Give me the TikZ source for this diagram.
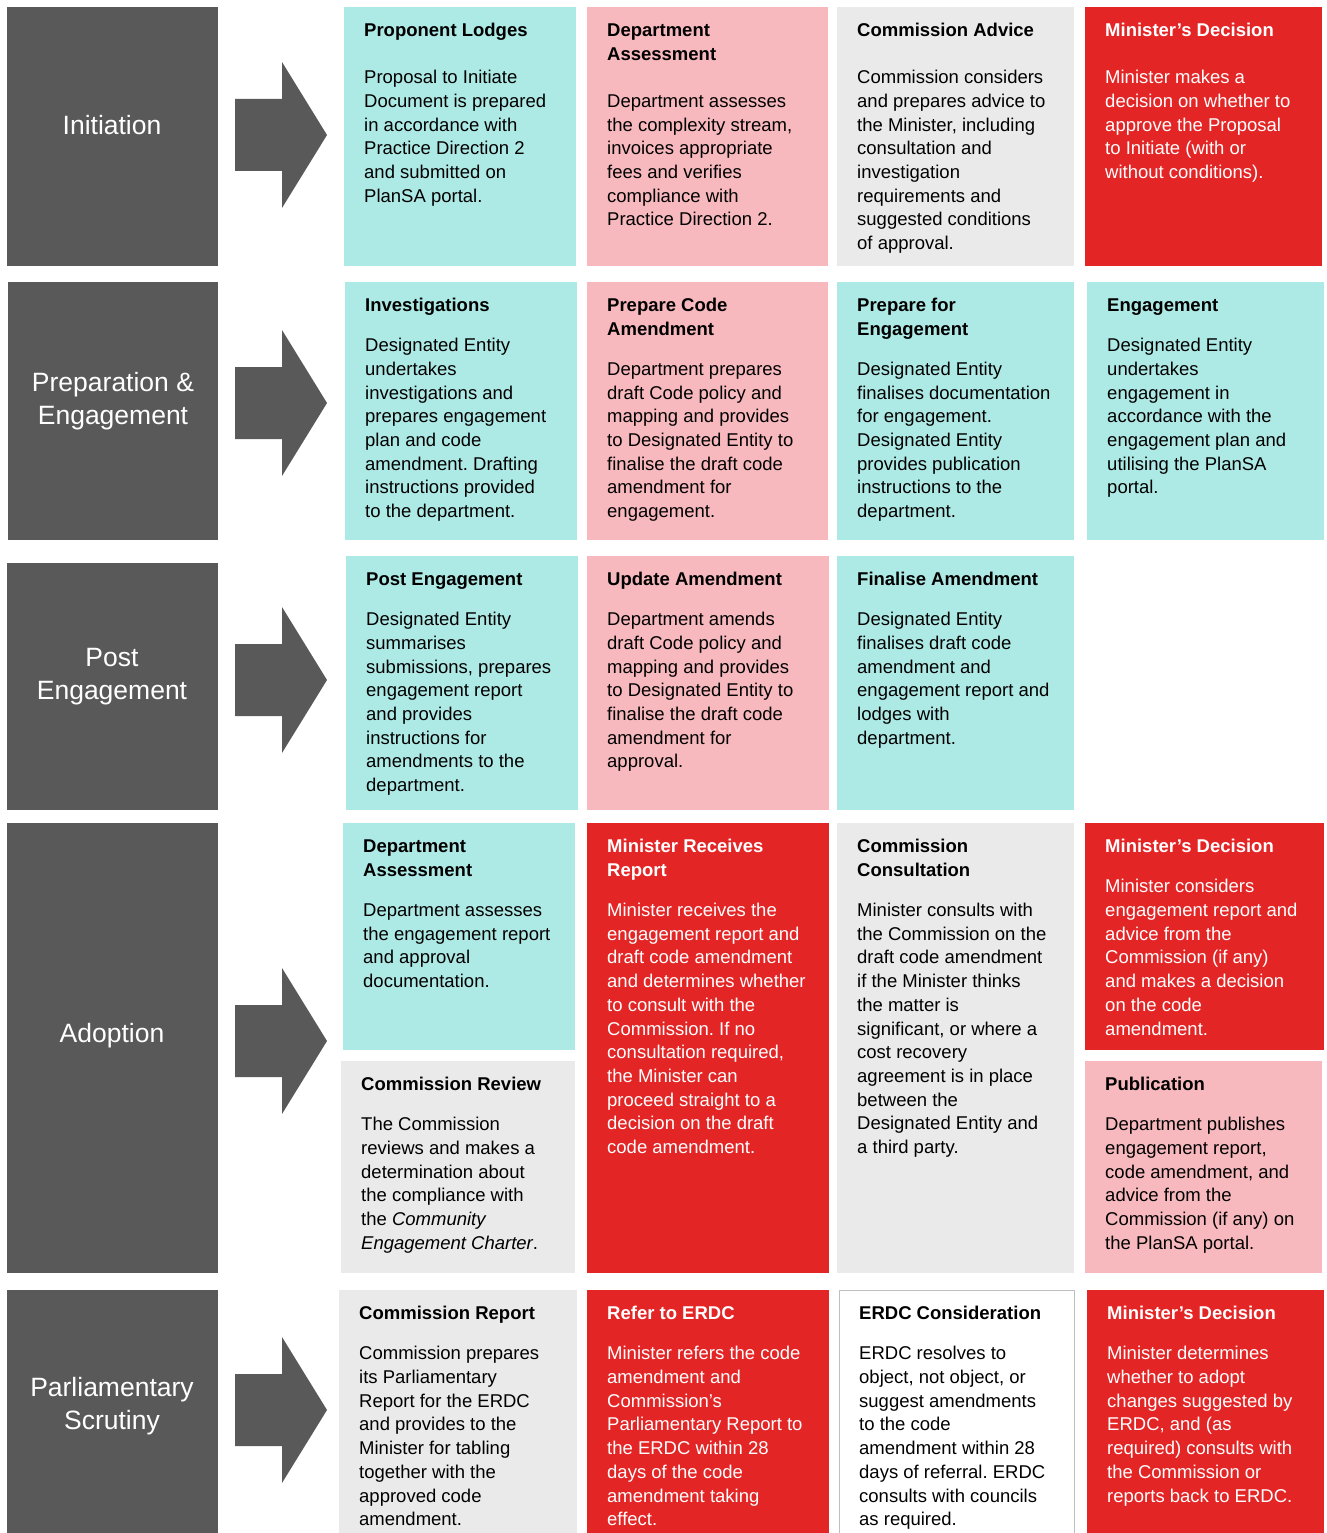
\documentclass[tikz,border=0pt]{standalone}
\usepackage{fontspec}
\setmainfont{Liberation Sans}
\frenchspacing
\definecolor{cyanbox}{HTML}{AEEAE5}
\definecolor{pinkbox}{HTML}{F8B9BE}
\definecolor{greybox}{HTML}{EAEAEA}
\definecolor{redbox}{HTML}{E42526}
\definecolor{darkbox}{HTML}{595959}
\definecolor{edgegrey}{HTML}{BFBFBF}
\tikzset{
  cardtext/.style={anchor=north west, inner sep=0pt, align=left, font=\fontsize{18.5}{23.7}\selectfont\frenchspacing},
  stagelabel/.style={inner sep=0pt, align=center, text=white, font=\fontsize{26.5}{33}\selectfont},
  stagebox/.style={fill=darkbox},
  stagearrow/.style={fill=darkbox},
  cyancard/.style={fill=cyanbox},
  pinkcard/.style={fill=pinkbox},
  greycard/.style={fill=greybox},
  redcard/.style={fill=redbox},
  whitecard/.style={fill=white, draw=edgegrey, line width=1pt},
}
% name, x1, y1, x2, y2, style, text colour, content
\newcommand\mycard[8]{%
  \path[#6] (#2,#3) rectangle (#4,#5);
  \node[cardtext, text=#7] (#1) at (#2+20,#3+13) {\strut #8};
}
% name, centre y
\newcommand\myarrow[2]{%
  \path[stagearrow] (235,#2-36) -- (282,#2-36) -- (282,#2-73) -- (327,#2)
     -- (282,#2+73) -- (282,#2+36) -- (235,#2+36) -- cycle;
  \coordinate (#1) at (327,#2);
}
\begin{document}
\begin{tikzpicture}[x=1pt,y=-1pt]
\useasboundingbox (0,0) rectangle (1326,1533);

% ---------- Row 1: Initiation ----------
\path[stagebox] (7,7) rectangle (218,266);
\node[stagelabel] (s1) at (112,125) {Initiation};
\myarrow{a1}{135}
\mycard{r1c1}{344}{7}{576}{266}{cyancard}{black}{\textbf{Proponent Lodges}\\[23.3pt]
Proposal to Initiate\\ Document is prepared\\ in accordance with\\ Practice Direction 2\\ and submitted on\\ PlanSA portal.}
\mycard{r1c2}{587}{7}{828}{266}{pinkcard}{black}{\textbf{Department}\\ \textbf{Assessment}\\[23.3pt]
Department assesses\\ the complexity stream,\\ invoices appropriate\\ fees and verifies\\ compliance with\\ Practice Direction 2.}
\mycard{r1c3}{837}{7}{1074}{266}{greycard}{black}{\textbf{Commission Advice}\\[23.3pt]
Commission considers\\ and prepares advice to\\ the Minister, including\\ consultation and\\ investigation\\ requirements and\\ suggested conditions\\ of approval.}
\mycard{r1c4}{1085}{7}{1322}{266}{redcard}{white}{\textbf{Minister’s Decision}\\[23.3pt]
Minister makes a\\ decision on whether to\\ approve the Proposal\\ to Initiate (with or\\ without conditions).}

% ---------- Row 2: Preparation & Engagement ----------
\path[stagebox] (8,282) rectangle (218,540);
\node[stagelabel] (s2) at (113,401) {Preparation \&\\ Engagement};
\myarrow{a2}{403}
\mycard{r2c1}{345}{282}{577}{540}{cyancard}{black}{\textbf{Investigations}\\[16.3pt]
Designated Entity\\ undertakes\\ investigations and\\ prepares engagement\\ plan and code\\ amendment. Drafting\\ instructions provided\\ to the department.}
\mycard{r2c2}{587}{282}{828}{540}{pinkcard}{black}{\textbf{Prepare Code}\\ \textbf{Amendment}\\[16.3pt]
Department prepares\\ draft Code policy and\\ mapping and provides\\ to Designated Entity to\\ finalise the draft code\\ amendment for\\ engagement.}
\mycard{r2c3}{837}{282}{1074}{540}{cyancard}{black}{\textbf{Prepare for}\\ \textbf{Engagement}\\[16.3pt]
Designated Entity\\ finalises documentation\\ for engagement.\\ Designated Entity\\ provides publication\\ instructions to the\\ department.}
\mycard{r2c4}{1087}{282}{1324}{540}{cyancard}{black}{\textbf{Engagement}\\[16.3pt]
Designated Entity\\ undertakes\\ engagement in\\ accordance with the\\ engagement plan and\\ utilising the PlanSA\\ portal.}

% ---------- Row 3: Post Engagement ----------
\path[stagebox] (7,563) rectangle (218,810);
\node[stagelabel] (s3) at (112,677) {Post\\ Engagement};
\myarrow{a3}{680}
\mycard{r3c1}{346}{556}{578}{810}{cyancard}{black}{\textbf{Post Engagement}\\[16.3pt]
Designated Entity\\ summarises\\ submissions, prepares\\ engagement report\\ and provides\\ instructions for\\ amendments to the\\ department.}
\mycard{r3c2}{587}{556}{829}{810}{pinkcard}{black}{\textbf{Update Amendment}\\[16.3pt]
Department amends\\ draft Code policy and\\ mapping and provides\\ to Designated Entity to\\ finalise the draft code\\ amendment for\\ approval.}
\mycard{r3c3}{837}{556}{1074}{810}{cyancard}{black}{\textbf{Finalise Amendment}\\[16.3pt]
Designated Entity\\ finalises draft code\\ amendment and\\ engagement report and\\ lodges with\\ department.}

% ---------- Row 4: Adoption ----------
\path[stagebox] (7,823) rectangle (218,1273);
\node[stagelabel] (s4) at (112,1036) {Adoption};
\myarrow{a4}{1041}
\mycard{r4c1a}{343}{823}{575}{1050}{cyancard}{black}{\textbf{Department}\\ \textbf{Assessment}\\[16.3pt]
Department assesses\\ the engagement report\\ and approval\\ documentation.}
\mycard{r4c1b}{341}{1061}{575}{1273}{greycard}{black}{\textbf{Commission Review}\\[16.3pt]
The Commission\\ reviews and makes a\\ determination about\\ the compliance with\\ the \textit{Community}\\ \textit{Engagement Charter}.}
\mycard{r4c2}{587}{823}{829}{1273}{redcard}{white}{\textbf{Minister Receives}\\ \textbf{Report}\\[16.3pt]
Minister receives the\\ engagement report and\\ draft code amendment\\ and determines whether\\ to consult with the\\ Commission. If no\\ consultation required,\\ the Minister can\\ proceed straight to a\\ decision on the draft\\ code amendment.}
\mycard{r4c3}{837}{823}{1074}{1273}{greycard}{black}{\textbf{Commission}\\ \textbf{Consultation}\\[16.3pt]
Minister consults with\\ the Commission on the\\ draft code amendment\\ if the Minister thinks\\ the matter is\\ significant, or where a\\ cost recovery\\ agreement is in place\\ between the\\ Designated Entity and\\ a third party.}
\mycard{r4c4a}{1085}{823}{1324}{1050}{redcard}{white}{\textbf{Minister’s Decision}\\[16.3pt]
Minister considers\\ engagement report and\\ advice from the\\ Commission (if any)\\ and makes a decision\\ on the code\\ amendment.}
\mycard{r4c4b}{1085}{1061}{1322}{1273}{pinkcard}{black}{\textbf{Publication}\\[16.3pt]
Department publishes\\ engagement report,\\ code amendment, and\\ advice from the\\ Commission (if any) on\\ the PlanSA portal.}

% ---------- Row 5: Parliamentary Scrutiny ----------
\path[stagebox] (7,1290) rectangle (218,1533);
\node[stagelabel] (s5) at (112,1406) {Parliamentary\\ Scrutiny};
\myarrow{a5}{1410}
\mycard{r5c1}{339}{1290}{577}{1533}{greycard}{black}{\textbf{Commission Report}\\[16.3pt]
Commission prepares\\ its Parliamentary\\ Report for the ERDC\\ and provides to the\\ Minister for tabling\\ together with the\\ approved code\\ amendment.}
\mycard{r5c2}{587}{1290}{829}{1533}{redcard}{white}{\textbf{Refer to ERDC}\\[16.3pt]
Minister refers the code\\ amendment and\\ Commission’s\\ Parliamentary Report to\\ the ERDC within 28\\ days of the code\\ amendment taking\\ effect.}
\mycard{r5c3}{839}{1290}{1074}{1540}{whitecard}{black}{\textbf{ERDC Consideration}\\[16.3pt]
ERDC resolves to\\ object, not object, or\\ suggest amendments\\ to the code\\ amendment within 28\\ days of referral. ERDC\\ consults with councils\\ as required.}
\mycard{r5c4}{1087}{1290}{1324}{1533}{redcard}{white}{\textbf{Minister’s Decision}\\[16.3pt]
Minister determines\\ whether to adopt\\ changes suggested by\\ ERDC, and (as\\ required) consults with\\ the Commission or\\ reports back to ERDC.}
\end{tikzpicture}
\end{document}
